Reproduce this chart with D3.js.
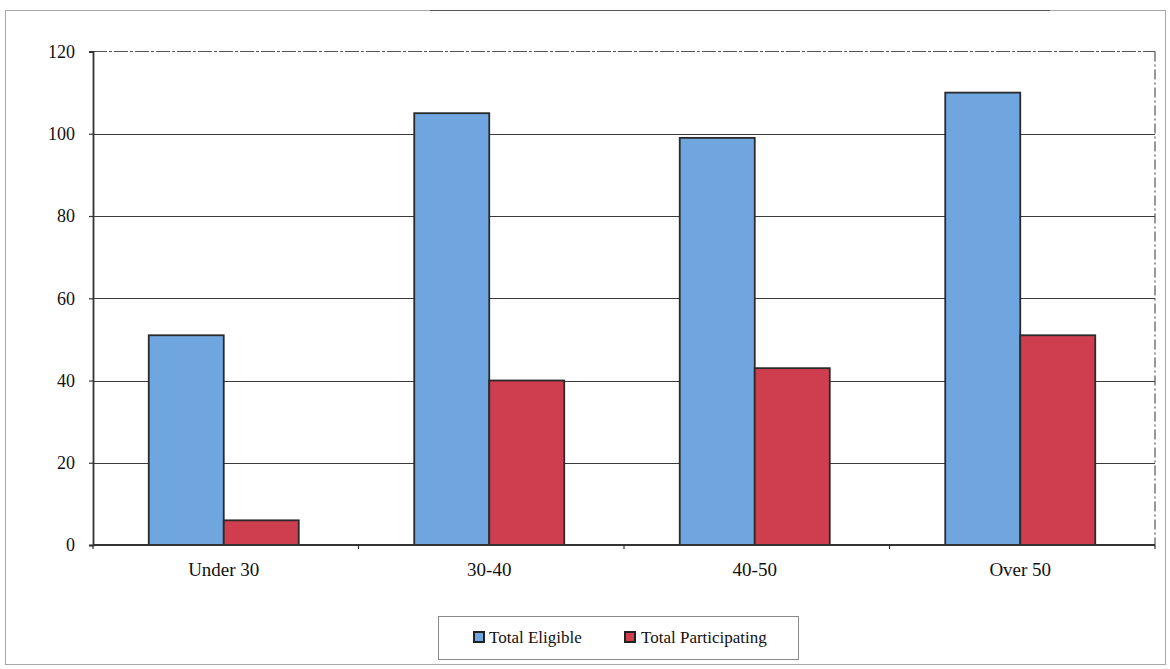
<!DOCTYPE html>
<html>
<head>
<meta charset="utf-8">
<script src="https://cdn.jsdelivr.net/npm/d3@7/dist/d3.min.js"></script>
<style>
  html, body { margin: 0; padding: 0; background: #ffffff; }
  svg { display: block; }
  svg text { font-family: "Liberation Serif", "Times New Roman", "DejaVu Serif", serif !important; fill: #111; }
</style>
</head>
<body>
<svg id="chart" width="1170" height="669"></svg>
<script>
// Age groups and participant counts
const categories = ["Under 30", "30-40", "40-50", "Over 50"];
const seriesNames = ["Total Eligible", "Total Participating"];
const totalEligible = [51, 105, 99, 110];
const totalParticipating = [6, 40, 43, 51];
const yTicks = [0, 20, 40, 60, 80, 100, 120];

const seriesColors = ["#6fa6e0", "#cf3e4f"];
const serif = "Liberation Serif, Times New Roman, serif";

const svg = d3.select("#chart");

// outer chart frame
svg.append("rect")
  .attr("x", 5.5).attr("y", 10.5)
  .attr("width", 1160).attr("height", 654)
  .attr("fill", "none").attr("stroke", "#a8a8a8").attr("stroke-width", 1);
svg.append("line")
  .attr("x1", 430).attr("x2", 1050).attr("y1", 10.5).attr("y2", 10.5)
  .attr("stroke", "#555").attr("stroke-width", 1.2);

const plot = { left: 93, right: 1155, top: 51.5, bottom: 545 };

const y = d3.scaleLinear().domain([0, 120]).range([plot.bottom, plot.top]);

const x0 = d3.scaleBand()
  .domain(categories)
  .range([plot.left - 2, plot.right - 2])
  .paddingInner(0.435)
  .paddingOuter(0.2175);

const x1 = d3.scaleBand()
  .domain(seriesNames)
  .range([0, x0.bandwidth()])
  .padding(0);

const rows = categories.map((c, i) => ({
  category: c,
  values: [
    { series: seriesNames[0], value: totalEligible[i] },
    { series: seriesNames[1], value: totalParticipating[i] }
  ]
}));

// horizontal gridlines
svg.append("g")
  .selectAll("line")
  .data(yTicks.filter(t => t > 0 && t < 120))
  .join("line")
  .attr("x1", plot.left).attr("x2", plot.right)
  .attr("y1", d => Math.round(y(d)) + 0.5)
  .attr("y2", d => Math.round(y(d)) + 0.5)
  .attr("stroke", "#3a3a3a").attr("stroke-width", 1.2);

// plot area top and right edges (dashed)
svg.append("line")
  .attr("x1", plot.left).attr("x2", plot.right)
  .attr("y1", y(120)).attr("y2", y(120))
  .attr("stroke", "#555").attr("stroke-width", 1.2)
  .attr("stroke-dasharray", "14,2,3,2");
svg.append("line")
  .attr("x1", plot.right).attr("x2", plot.right)
  .attr("y1", y(120)).attr("y2", plot.bottom)
  .attr("stroke", "#555").attr("stroke-width", 1.2)
  .attr("stroke-dasharray", "10,3,2,3");

// bars
const groups = svg.append("g")
  .selectAll("g")
  .data(rows)
  .join("g")
  .attr("transform", d => `translate(${x0(d.category)},0)`);

groups.selectAll("rect")
  .data(d => d.values)
  .join("rect")
  .attr("x", d => x1(d.series))
  .attr("y", d => y(d.value))
  .attr("width", x1.bandwidth())
  .attr("height", d => y(0) - y(d.value))
  .attr("fill", (d, i) => seriesColors[i])
  .attr("stroke", "#2a2a2a")
  .attr("stroke-width", 1.8);

// y axis
const yAxis = d3.axisLeft(y).tickValues(yTicks).tickSize(4).tickPadding(14);
const gy = svg.append("g")
  .attr("transform", `translate(${plot.left},0)`)
  .attr("font-family", serif)
  .call(yAxis);
gy.attr("font-family", serif);
gy.select(".domain").attr("stroke", "#333").attr("stroke-width", 1.8);
gy.selectAll(".tick line").attr("stroke", "#333").attr("stroke-width", 1.2);
gy.selectAll(".tick text")
  .attr("font-size", 18)
  .attr("fill", "#111");

// x axis with ticks at category boundaries
const gx = svg.append("g")
  .attr("transform", `translate(0,${plot.bottom})`)
  .attr("font-family", serif);
gx.append("line")
  .attr("x1", plot.left).attr("x2", plot.right)
  .attr("y1", 0).attr("y2", 0)
  .attr("stroke", "#333").attr("stroke-width", 1.8);
gx.selectAll("line.tick")
  .data(d3.range(categories.length + 1))
  .join("line")
  .attr("class", "tick")
  .attr("x1", i => plot.left + i * (plot.right - plot.left) / categories.length)
  .attr("x2", i => plot.left + i * (plot.right - plot.left) / categories.length)
  .attr("y1", 0).attr("y2", 4)
  .attr("stroke", "#333").attr("stroke-width", 1.2);
gx.selectAll("text")
  .data(categories)
  .join("text")
  .attr("x", d => x0(d) + x0.bandwidth() / 2)
  .attr("y", 31)
  .attr("text-anchor", "middle")
  .attr("font-size", 19)
  .text(d => d);

// legend
const legend = svg.append("g").attr("font-family", serif);
legend.append("rect")
  .attr("x", 438.5).attr("y", 616.5)
  .attr("width", 360).attr("height", 43)
  .attr("fill", "#fff").attr("stroke", "#8a8a8a").attr("stroke-width", 1);
const legendItems = [
  { name: seriesNames[0], color: seriesColors[0], mx: 474, tx: 489 },
  { name: seriesNames[1], color: seriesColors[1], mx: 625, tx: 641 }
];
legendItems.forEach(it => {
  legend.append("rect")
    .attr("x", it.mx).attr("y", 632)
    .attr("width", 10).attr("height", 10)
    .attr("fill", it.color).attr("stroke", "#222").attr("stroke-width", 2);
  legend.append("text")
    .attr("x", it.tx).attr("y", 643)
    .attr("font-size", 17)
    .text(it.name);
});
</script>
</body>
</html>
